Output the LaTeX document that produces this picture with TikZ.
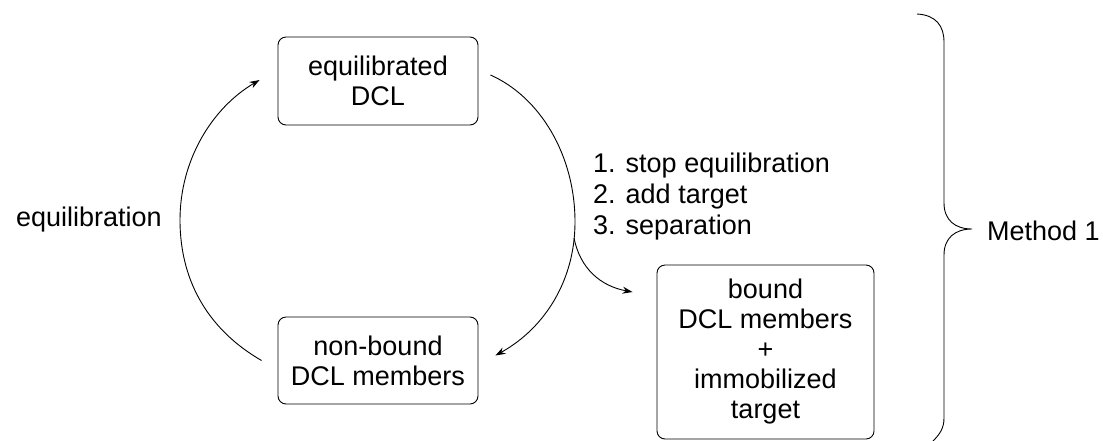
\documentclass[tikz,border=0pt]{standalone}
\usepackage{fontspec}
\setmainfont{Liberation Sans}
\usetikzlibrary{arrows.meta}
\begin{document}
\begin{tikzpicture}[x=1pt,y=-1pt,
  box/.style={draw,line width=0.9pt,rounded corners=8pt,align=center,inner sep=0pt,
    font=\fontsize{27}{30}\selectfont},
  lbl/.style={font=\fontsize{27}{30}\selectfont,inner sep=0pt},
  conn/.style={line width=0.9pt},
  arr/.style={conn,-{Stealth[length=10pt,width=7pt]}}]
\useasboundingbox (0,0) rectangle (1103,440);
\node[box,minimum width=200pt,minimum height=88pt] (eq) at (378,81) {equilibrated\\DCL};
\node[box,minimum width=200pt,minimum height=87pt] (nb) at (378,360.5) {non-bound\\DCL members};
\node[box,minimum width=217pt,minimum height=174pt] (bd) at (765.5,352) {bound\\DCL members\\+\\immobilized\\target};
\node[lbl,anchor=base west] (eql) at (16,226) {equilibration};
\node[lbl,anchor=base west] (s1) at (593,172) {1. stop equilibration};
\node[lbl,anchor=base west] (s2) at (593,203) {2. add target};
\node[lbl,anchor=base west] (s3) at (593,234) {3. separation};
\node[lbl,anchor=base west] (m1) at (987,240) {Method 1};
% arc endpoints
\coordinate (la) at ([xshift=-16pt]nb.west);
\coordinate (lb) at ([xshift=-18pt,yshift=1pt]eq.west);
\coordinate (ra) at ([xshift=12pt,yshift=6pt]eq.east);
\coordinate (rb) at ([xshift=17pt,yshift=5pt]nb.east);
\coordinate (br) at (574,238);
\coordinate (bt) at ([xshift=-24pt,yshift=60pt]bd.west);
% left arc
\draw[arr] (la) .. controls (212,332) and (180,285) .. (180,220)
  .. controls (180,160) and (212,108) .. (lb);
% right arc
\draw[arr] (ra) .. controls (540,97) and (575,155) .. (575,222)
  .. controls (575,280) and (545,328) .. (rb);
% branch
\draw[arr] (br) .. controls (580,268) and (600,286) .. (bt);
% brace
\draw[conn] (917,14) .. controls (936,15) and (944,26) .. (944,42) -- (944,203)
  .. controls (944,220) and (955,229) .. (972,229)
  .. controls (955,229) and (944,238) .. (944,255) -- (944,418)
  .. controls (944,428) and (940,434) .. (933,441);
\end{tikzpicture}
\end{document}
